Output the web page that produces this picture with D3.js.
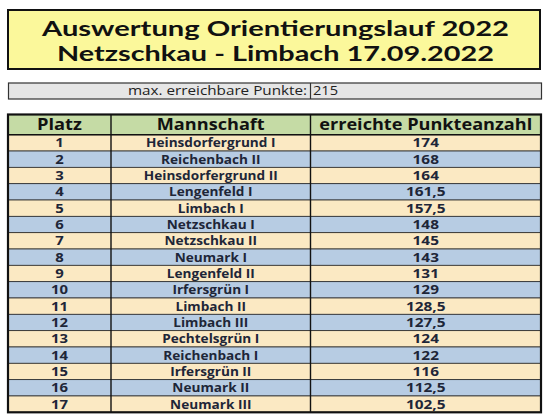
<!DOCTYPE html>
<html>
<head>
<meta charset="utf-8">
<script src="https://cdn.jsdelivr.net/npm/d3@7"></script>
<style>
  body { margin: 0; background: #fff; }
  svg { display: block; font-family: "Open Sans", sans-serif; }
</style>
</head>
<body>
<div id="chart"></div>
<script>
// Daten
const titleLines = ['Auswertung Orientierungslauf 2022', 'Netzschkau - Limbach 17.09.2022'];
const maxLabel = 'max. erreichbare Punkte:';
const maxPoints = 215;
const headers = ['Platz', 'Mannschaft', 'erreichte Punkteanzahl'];
const places = [1, 2, 3, 4, 5, 6, 7, 8, 9, 10, 11, 12, 13, 14, 15, 16, 17];
const teams = ['Heinsdorfergrund I', 'Reichenbach II', 'Heinsdorfergrund II', 'Lengenfeld I', 'Limbach I',
  'Netzschkau I', 'Netzschkau II', 'Neumark I', 'Lengenfeld II', 'Irfersgrün I', 'Limbach II',
  'Limbach III', 'Pechtelsgrün I', 'Reichenbach I', 'Irfersgrün II', 'Neumark II', 'Neumark III'];
const points = [174, 168, 164, 161.5, 157.5, 148, 145, 143, 131, 129, 128.5, 127.5, 124, 122, 116, 112.5, 102.5];

const width = 550, height = 419;
const textColor = '#1e2638';
const fmt = v => String(v).replace('.', ',');

const svg = d3.select('#chart').append('svg')
  .attr('width', width)
  .attr('height', height);

// Titel-Box
const titleWidths = [467, 437];
const title = svg.append('g');
title.append('rect')
  .attr('x', 8).attr('y', 10).attr('width', 532).attr('height', 59)
  .attr('fill', '#fbf89b').attr('stroke', '#111').attr('stroke-width', 2);
title.selectAll('text')
  .data(titleLines)
  .enter().append('text')
  .attr('x', 275.5)
  .attr('y', (d, i) => 36.2 + i * 24.6)
  .attr('text-anchor', 'middle')
  .attr('font-family', 'Lato, sans-serif')
  .attr('font-size', 20)
  .attr('font-weight', 700)
  .attr('fill', '#111')
  .attr('textLength', (d, i) => titleWidths[i])
  .attr('lengthAdjust', 'spacingAndGlyphs')
  .text(d => d);

// Max. Punkte Zeile
const maxRow = svg.append('g');
maxRow.append('rect')
  .attr('x', 8.5).attr('y', 83).attr('width', 533).attr('height', 16)
  .attr('fill', '#e6e6e6').attr('stroke', '#333').attr('stroke-width', 1.2);
maxRow.append('line')
  .attr('x1', 310.5).attr('x2', 310.5).attr('y1', 83).attr('y2', 99)
  .attr('stroke', '#333').attr('stroke-width', 1.2);
maxRow.append('text')
  .attr('x', 307).attr('y', 95.3)
  .attr('text-anchor', 'end')
  .attr('font-size', 12.3)
  .attr('fill', '#222')
  .attr('textLength', 179)
  .attr('lengthAdjust', 'spacingAndGlyphs')
  .text(maxLabel);
maxRow.append('text')
  .attr('x', 313).attr('y', 95.3)
  .attr('font-size', 12.3)
  .attr('fill', '#222')
  .attr('textLength', 25)
  .attr('lengthAdjust', 'spacingAndGlyphs')
  .text(maxPoints);

// Tabelle
const colEdges = [8, 111, 310.5, 541];
const colCenter = i => (colEdges[i] + colEdges[i + 1]) / 2;
const colStretch = [1.18, 1.08, 1.22];
const headerWidths = [45, 108, 213];
const headerTop = 114.5, headerBottom = 134.7, tableBottom = 412.3;

const y = d3.scaleBand()
  .domain(places)
  .range([headerBottom, tableBottom]);

const table = svg.append('g');

// Kopfzeile
table.append('rect')
  .attr('x', colEdges[0]).attr('y', headerTop)
  .attr('width', colEdges[3] - colEdges[0]).attr('height', headerBottom - headerTop)
  .attr('fill', '#c5dba5');
table.selectAll('.head')
  .data(headers)
  .enter().append('text')
  .attr('class', 'head')
  .attr('x', (d, i) => colCenter(i))
  .attr('y', headerTop + 15.5)
  .attr('text-anchor', 'middle')
  .attr('font-size', 16.2)
  .attr('font-weight', 700)
  .attr('fill', '#111')
  .attr('textLength', (d, i) => headerWidths[i])
  .attr('lengthAdjust', 'spacingAndGlyphs')
  .text(d => d);

// Zeilen
const rows = table.selectAll('.row')
  .data(places.map((p, i) => ({ place: p, team: teams[i], pts: points[i] })))
  .enter().append('g')
  .attr('class', 'row')
  .attr('transform', d => `translate(0,${y(d.place)})`);

rows.append('rect')
  .attr('x', colEdges[0])
  .attr('width', colEdges[3] - colEdges[0])
  .attr('height', y.bandwidth())
  .attr('fill', d => d.place % 2 ? '#fbe9c3' : '#b7cce3')
  .attr('stroke', '#2a2a2a')
  .attr('stroke-width', 0.8);

// Zelltext, horizontal leicht gestreckt wie im Original
const cellText = (sel, i, fn) => sel.append('text')
  .attr('transform', `translate(${colCenter(i)},${y.bandwidth() / 2 + 4.5}) scale(${colStretch[i]},1)`)
  .attr('text-anchor', 'middle')
  .attr('font-size', 12.6)
  .attr('font-weight', 700)
  .attr('fill', textColor)
  .text(fn);

cellText(rows, 0, d => d.place);
cellText(rows, 1, d => d.team);
cellText(rows, 2, d => fmt(d.pts));

// Linien
table.selectAll('.vline')
  .data(colEdges.slice(1, 3))
  .enter().append('line')
  .attr('x1', d => d).attr('x2', d => d)
  .attr('y1', headerTop).attr('y2', tableBottom)
  .attr('stroke', '#111').attr('stroke-width', 1.4);
table.append('line')
  .attr('x1', colEdges[0]).attr('x2', colEdges[3])
  .attr('y1', headerBottom).attr('y2', headerBottom)
  .attr('stroke', '#111').attr('stroke-width', 1.6);
table.append('rect')
  .attr('x', colEdges[0]).attr('y', headerTop)
  .attr('width', colEdges[3] - colEdges[0]).attr('height', tableBottom - headerTop)
  .attr('fill', 'none').attr('stroke', '#111').attr('stroke-width', 2.2);
</script>
</body>
</html>
